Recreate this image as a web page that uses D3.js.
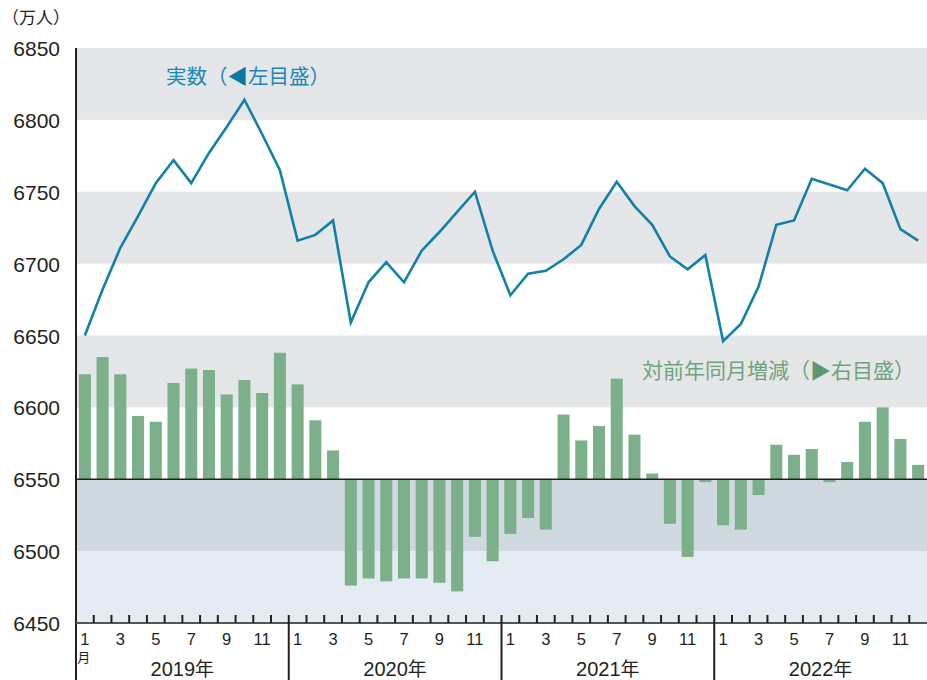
<!DOCTYPE html>
<html>
<head>
<meta charset="utf-8">
<script src="https://cdn.jsdelivr.net/npm/d3@7"></script>
<style>
  body { margin: 0; background: #fff; }
  text { font-family: "Liberation Sans", Arial, sans-serif; fill: #231f20; }
  .jp { font-family: "Noto Sans CJK JP", sans-serif; }
</style>
</head>
<body>
<script>
// chart data (万人)
var years = ['2019年', '2020年', '2021年', '2022年'];
var monthTicks = [1, 3, 5, 7, 9, 11];
var yTicks = [6450, 6500, 6550, 6600, 6650, 6700, 6750, 6800, 6850];

// 実数 (left axis)
var actual = [
  6650, 6682, 6711, 6733, 6756, 6772, 6756, 6777, 6795, 6814, 6790, 6765,
  6716, 6720, 6730, 6659, 6687, 6701, 6687, 6709, 6722, 6736, 6750, 6709,
  6678, 6693, 6695, 6703, 6713, 6738, 6757, 6740, 6727, 6705, 6696, 6706,
  6646, 6658, 6684, 6727, 6730, 6759, 6755, 6751, 6766, 6756, 6724, 6716
];

// 対前年同月増減 (right axis, zero at 6550)
var change = [
   73,  85,  73,  44,  40,  67,  77,  76,  59,  69,  60,  88,
   66,  41,  20, -74, -69, -71, -69, -69, -72, -78, -40, -57,
  -38, -27, -35,  45,  27,  37,  70,  31,   4, -31, -54,  -2,
  -32, -35, -11,  24,  17,  21,  -2,  12,  40,  50,  28,  10
];

var W = 927, H = 680;
var mL = 76, mR = 927, mT = 48, mB = 623;

var svg = d3.select('body').append('svg')
    .attr('width', W)
    .attr('height', H);

var x = d3.scaleBand()
    .domain(d3.range(actual.length))
    .range([mL, mR])
    .padding(0);

var y = d3.scaleLinear().domain([6450, 6850]).range([mB, mT]);
// right scale: same pixel size, zero sits on 6550
var yR = d3.scaleLinear().domain([-100, 300]).range([mB, mT]);

// background bands
var bands = [
  { lo: 6800, hi: 6850, c: '#e5e6e8' },
  { lo: 6700, hi: 6750, c: '#e5e6e8' },
  { lo: 6600, hi: 6650, c: '#e5e6e8' },
  { lo: 6500, hi: 6550, c: '#d0d8e0' },
  { lo: 6450, hi: 6500, c: '#e4ebf2' }
];
svg.selectAll('rect.band')
    .data(bands)
    .enter()
    .append('rect')
    .attr('class', 'band')
    .attr('x', mL)
    .attr('width', mR - mL)
    .attr('y', function(d) { return y(d.hi); })
    .attr('height', function(d) { return y(d.lo) - y(d.hi); })
    .attr('fill', function(d) { return d.c; });

// bars
var bw = x.bandwidth() * 0.68;
svg.selectAll('rect.bar')
    .data(change)
    .enter()
    .append('rect')
    .attr('class', 'bar')
    .attr('x', function(d, i) { return x(i) + (x.bandwidth() - bw) / 2; })
    .attr('width', bw)
    .attr('y', function(d) { return d >= 0 ? yR(d) : yR(0); })
    .attr('height', function(d) { return Math.abs(yR(d) - yR(0)); })
    .attr('fill', '#7bb08b');

// zero line of the bars
svg.append('line')
    .attr('x1', mL).attr('x2', mR)
    .attr('y1', yR(0)).attr('y2', yR(0))
    .attr('stroke', '#231f20')
    .attr('stroke-width', 1.5);

// line
var line = d3.line()
    .x(function(d, i) { return x(i) + x.bandwidth() / 2; })
    .y(function(d) { return y(d); });

svg.append('path')
    .datum(actual)
    .attr('d', line)
    .attr('fill', 'none')
    .attr('stroke', '#1181a9')
    .attr('stroke-width', 2.6)
    .attr('stroke-linejoin', 'miter');

// left axis
var yAxis = d3.axisLeft(y)
    .tickValues(yTicks)
    .tickFormat(d3.format('d'))
    .tickSize(0)
    .tickPadding(16);
var gy = svg.append('g')
    .attr('transform', 'translate(' + mL + ',0)')
    .call(yAxis);
gy.select('.domain').remove();
gy.selectAll('text')
    .attr('font-size', 21)
    .attr('font-family', '"Liberation Sans", Arial, sans-serif')
    .attr('dy', '0.36em')
    .attr('fill', '#231f20');

svg.append('line')
    .attr('x1', mL).attr('x2', mL)
    .attr('y1', mT).attr('y2', H)
    .attr('stroke', '#231f20')
    .attr('stroke-width', 2);

svg.append('text')
    .attr('class', 'jp')
    .attr('x', 2)
    .attr('y', 24)
    .attr('font-size', 17)
    .text('（万人）');

// bottom axis
svg.append('line')
    .attr('x1', mL).attr('x2', mR)
    .attr('y1', mB).attr('y2', mB)
    .attr('stroke', '#555')
    .attr('stroke-width', 2);

var bounds = d3.range(1, actual.length);
svg.selectAll('line.mtick')
    .data(bounds.filter(function(i) { return i % 12 !== 0; }))
    .enter()
    .append('line')
    .attr('class', 'mtick')
    .attr('x1', function(i) { return x(i); })
    .attr('x2', function(i) { return x(i); })
    .attr('y1', mB - 8)
    .attr('y2', mB)
    .attr('stroke', '#231f20')
    .attr('stroke-width', 2);

svg.selectAll('line.ysep')
    .data(bounds.filter(function(i) { return i % 12 === 0; }))
    .enter()
    .append('line')
    .attr('class', 'ysep')
    .attr('x1', function(i) { return x(i); })
    .attr('x2', function(i) { return x(i); })
    .attr('y1', mB - 8)
    .attr('y2', H)
    .attr('stroke', '#231f20')
    .attr('stroke-width', 2);

var mlabels = [];
years.forEach(function(yr, k) {
    monthTicks.forEach(function(m) { mlabels.push({ i: k * 12 + m - 1, m: m }); });
});
svg.selectAll('text.mlab')
    .data(mlabels)
    .enter()
    .append('text')
    .attr('class', 'mlab')
    .attr('x', function(d) { return x(d.i) + x.bandwidth() / 2; })
    .attr('y', 645)
    .attr('text-anchor', 'middle')
    .attr('font-size', 16.5)
    .text(function(d) { return d.m; });

svg.append('text')
    .attr('class', 'jp')
    .attr('x', x(0) + x.bandwidth() / 2 - 1)
    .attr('y', 662)
    .attr('text-anchor', 'middle')
    .attr('font-size', 13)
    .text('月');

svg.selectAll('text.ylab')
    .data(years)
    .enter()
    .append('text')
    .attr('class', 'ylab')
    .attr('x', function(d, k) { return x(k * 12 + 6); })
    .attr('y', 676)
    .attr('text-anchor', 'middle')
    .attr('font-size', 20)
    .each(function(d) {
        var t = d3.select(this);
        t.append('tspan').text(d.replace('年', ''));
        t.append('tspan').attr('class', 'jp').attr('font-size', 19).text('年');
    });

// legend labels
var l1 = svg.append('text')
    .attr('class', 'jp')
    .attr('x', 166)
    .attr('y', 84)
    .attr('font-size', 20.5);
l1.append('tspan').attr('fill', '#1a88b3').text('実数（');
l1.append('tspan').attr('fill', '#0a78a4').text('◀');
l1.append('tspan').attr('fill', '#1a88b3').text('左目盛）');

var l2 = svg.append('text')
    .attr('class', 'jp')
    .attr('x', 642)
    .attr('y', 378)
    .attr('font-size', 21);
l2.append('tspan').attr('fill', '#6fa47e').text('対前年同月増減（');
l2.append('tspan').attr('fill', '#5c9a6e').text('▶');
l2.append('tspan').attr('fill', '#6fa47e').text('右目盛）');
</script>
</body>
</html>
